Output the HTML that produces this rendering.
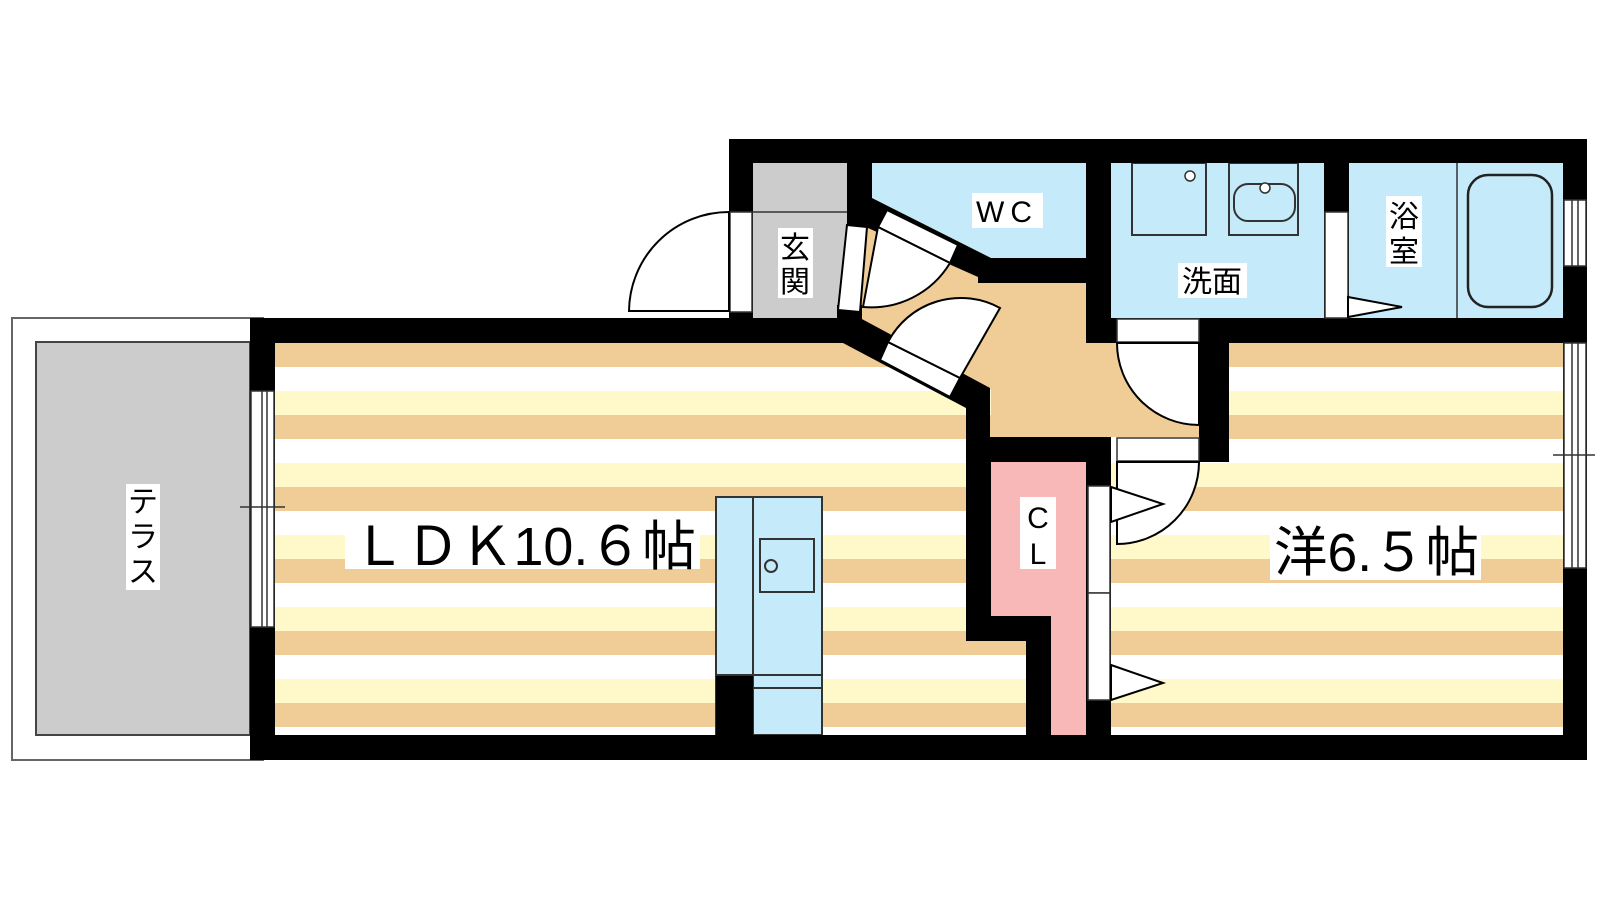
<!DOCTYPE html>
<html><head><meta charset="utf-8"><style>
html,body{margin:0;padding:0;background:#fff;width:1600px;height:900px;overflow:hidden}
svg{display:block}
text{font-family:"Liberation Sans","Noto Sans CJK JP",sans-serif;fill:#000}
</style></head><body>
<svg width="1600" height="900" viewBox="0 0 1600 900" xmlns="http://www.w3.org/2000/svg">
<defs>
<pattern id="st" patternUnits="userSpaceOnUse" x="0" y="343" width="10" height="72">
<rect width="10" height="24" fill="#f0cc96"/><rect y="24" width="10" height="24" fill="#fff"/><rect y="48" width="10" height="24" fill="#fff8c8"/>
</pattern>
</defs>
<rect x="12" y="318" width="251" height="442" fill="#fff" stroke="#666" stroke-width="2"/>
<rect x="36" y="342" width="214" height="393" fill="#ccc" stroke="#444" stroke-width="2"/>
<rect x="275" y="343" width="716" height="392" fill="url(#st)"/>
<rect x="991" y="641" width="35" height="94" fill="url(#st)"/>
<rect x="1229" y="343" width="334" height="392" fill="url(#st)"/>
<rect x="1111" y="462" width="118" height="273" fill="url(#st)"/>
<polygon points="845,200 1200,200 1200,437 991,437 991,390 845,318" fill="#f0cc96"/>
<rect x="753" y="163" width="94" height="155" fill="#ccc"/>
<line x1="753" y1="212" x2="847" y2="212" stroke="#333" stroke-width="1.5"/>
<polygon points="872,163 1086,163 1086,258 991,258 872,198" fill="#c5eaf9"/>
<rect x="1111" y="163" width="213" height="155" fill="#c5eaf9"/>
<rect x="1132" y="163" width="74" height="72" fill="none" stroke="#333" stroke-width="2"/>
<circle cx="1190" cy="176" r="5" fill="#fff" stroke="#333" stroke-width="1.5"/>
<rect x="1229" y="163" width="69" height="72" fill="none" stroke="#333" stroke-width="2"/>
<rect x="1234" y="184" width="61" height="37" rx="14" fill="none" stroke="#333" stroke-width="2"/>
<circle cx="1265" cy="188" r="5" fill="#fff" stroke="#333" stroke-width="1.5"/>
<rect x="1349" y="163" width="214" height="155" fill="#c5eaf9"/>
<line x1="1457" y1="163" x2="1457" y2="318" stroke="#333" stroke-width="1.5"/>
<rect x="1468" y="175" width="84" height="132" rx="20" fill="none" stroke="#222" stroke-width="2.5"/>
<polygon points="991,462 1086,462 1086,735 1051,735 1051,616 991,616" fill="#f8b8b8"/>
<rect x="716" y="497" width="106" height="238" fill="#c5eaf9" stroke="#333" stroke-width="2"/>
<line x1="753" y1="497" x2="753" y2="735" stroke="#333" stroke-width="2"/>
<line x1="716" y1="675" x2="822" y2="675" stroke="#333" stroke-width="2"/>
<line x1="753" y1="688" x2="822" y2="688" stroke="#333" stroke-width="2"/>
<rect x="760" y="539" width="54" height="53" fill="none" stroke="#333" stroke-width="2"/>
<circle cx="771" cy="566" r="6" fill="none" stroke="#333" stroke-width="2"/>
<rect x="716" y="676" width="37" height="59" fill="#000"/>
<g fill="#000">
<rect x="729" y="139" width="858" height="24"/>
<rect x="1563" y="139" width="24" height="621"/>
<rect x="250" y="735" width="1337" height="25"/>
<rect x="250" y="318" width="25" height="442"/>
<rect x="250" y="318" width="597" height="25"/>
<rect x="729" y="139" width="24" height="179"/>
<polygon points="847,139 872,139 872,198 991,258 1111,258 1111,283 978,283 978,277 868,228 847,227"/>
<rect x="837" y="305" width="25" height="38"/>
<polygon points="843,318 860,318 990,388 990,437 1111,437 1111,462 991,462 991,616 1051,616 1051,760 1026,760 1026,641 966,641 966,408 843,343"/>
<rect x="1086" y="139" width="25" height="204"/>
<rect x="1086" y="318" width="501" height="25"/>
<rect x="1199" y="318" width="30" height="144"/>
<rect x="1324" y="139" width="25" height="179"/>
<rect x="1086" y="462" width="25" height="298"/>
</g>
<g fill="#fff" stroke="#333" stroke-width="1.5">
<rect x="730" y="212" width="22" height="100"/>
<rect x="251" y="391" width="23" height="236"/>
<rect x="1564" y="200" width="22" height="66"/>
<rect x="1564" y="343" width="22" height="225"/>
<rect x="1325" y="212" width="23" height="106"/>
<rect x="1117" y="319" width="82" height="23"/>
<rect x="1117" y="438" width="82" height="23"/>
<rect x="1088" y="486" width="22" height="107"/>
<rect x="1088" y="593" width="22" height="107"/>
</g>
<g stroke="#333" stroke-width="1.5">
<line x1="262" y1="391" x2="262" y2="627"/><line x1="267" y1="391" x2="267" y2="627"/>
<line x1="240" y1="507" x2="285" y2="507"/>
<line x1="1572" y1="200" x2="1572" y2="266"/><line x1="1578" y1="200" x2="1578" y2="266"/>
<line x1="1572" y1="343" x2="1572" y2="568"/><line x1="1578" y1="343" x2="1578" y2="568"/>
<line x1="1553" y1="455" x2="1595" y2="455"/>
</g>
<g fill="#fff" stroke="#000" stroke-width="2">
<path d="M729,212 A100,100 0 0,0 629,311 L729,311 Z"/>
<polygon points="847,225 867,227 860,312 838,310"/>
<polygon points="887,210 958,245 950,263 878,227"/>
<path d="M878,227 L950,263 A92,92 0 0,1 863,307 Z"/>
<polygon points="888,342 960,378 950,397 880,360"/>
<path d="M960,378 L888,342 A82,82 0 0,1 1000,308 Z"/>
<path d="M1199,343 L1117,343 A82,82 0 0,0 1199,425 Z"/>
<path d="M1117,462 L1199,462 A82,82 0 0,1 1117,544 Z"/>
<polygon points="1111,487 1163,504 1111,522"/>
<polygon points="1111,665 1163,683 1111,700"/>
<polygon points="1348,297 1402,307 1348,317"/>
</g>
<g>
<rect x="345" y="515" width="355" height="54" fill="#fff"/>
<text x="352" y="565" font-size="54" textLength="344" lengthAdjust="spacingAndGlyphs">ＬＤＫ10.６帖</text>
<rect x="1270" y="515" width="211" height="65" fill="#fff"/>
<text x="1274" y="571" font-size="54" textLength="205" lengthAdjust="spacingAndGlyphs">洋6.５帖</text>
<rect x="972" y="193" width="71" height="35" fill="#fff"/>
<text x="1007" y="222" font-size="30" text-anchor="middle" letter-spacing="6">WC</text>
<rect x="1178" y="263" width="69" height="35" fill="#fff"/>
<text x="1212" y="292" font-size="30" text-anchor="middle">洗面</text>
<rect x="778" y="228" width="35" height="70" fill="#fff"/>
<text x="795" y="258" font-size="30" text-anchor="middle">玄</text>
<text x="795" y="292" font-size="30" text-anchor="middle">関</text>
<rect x="1386" y="196" width="36" height="71" fill="#fff"/>
<text x="1404" y="227" font-size="30" text-anchor="middle">浴</text>
<text x="1404" y="262" font-size="30" text-anchor="middle">室</text>
<rect x="1020" y="497" width="36" height="72" fill="#fff"/>
<text x="1038" y="528" font-size="30" text-anchor="middle">C</text>
<text x="1038" y="564" font-size="30" text-anchor="middle">L</text>
<rect x="126" y="484" width="34" height="106" fill="#fff"/>
<text x="143" y="512" font-size="30" text-anchor="middle">テ</text>
<text x="143" y="547" font-size="30" text-anchor="middle">ラ</text>
<text x="143" y="582" font-size="30" text-anchor="middle">ス</text>
</g>
</svg>
</body></html>
